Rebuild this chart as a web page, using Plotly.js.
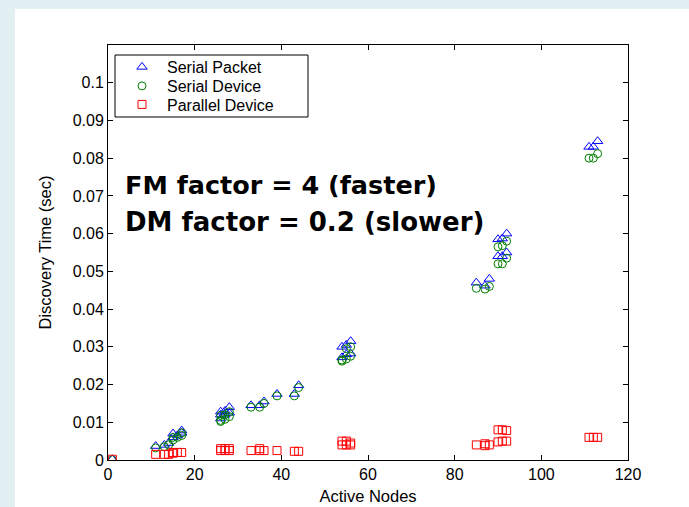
<!DOCTYPE html>
<html>
<head>
<meta charset="utf-8">
<script src="https://cdn.plot.ly/plotly-3.0.1.min.js"></script>
<style>
html,body{margin:0;padding:0;width:689px;height:507px;overflow:hidden;background:#e2f0f3;}
#panel{position:absolute;left:15px;top:9px;width:674px;height:498px;background:#ffffff;}
#chart{position:absolute;left:0;top:0;width:689px;height:507px;}
</style>
</head>
<body>
<div id="panel"></div>
<div id="chart"></div>
<script>
const packetX = [1, 11, 13, 14, 15, 15, 16, 17, 17, 26, 26, 26, 27, 27, 28, 28, 33, 35, 36, 39, 43, 44, 54, 54, 55, 55, 56, 56, 85, 87, 88, 90, 90, 91, 91, 92, 92, 111, 112, 113];
const packetY = [0.0002, 0.0037, 0.004, 0.0045, 0.006, 0.007, 0.0065, 0.0078, 0.0072, 0.012, 0.0128, 0.011, 0.013, 0.012, 0.014, 0.0125, 0.0145, 0.0145, 0.0155, 0.0175, 0.0175, 0.0198, 0.0300, 0.0272, 0.0305, 0.0280, 0.0315, 0.0282, 0.0470, 0.0462, 0.0480, 0.0540, 0.0585, 0.0540, 0.0587, 0.0550, 0.0600, 0.0830, 0.0830, 0.0845];
const deviceX = [1, 11, 13, 14, 15, 15, 16, 17, 17, 26, 26, 26, 27, 27, 28, 28, 33, 35, 36, 39, 43, 44, 54, 54, 55, 55, 56, 56, 85, 87, 88, 90, 90, 91, 91, 92, 92, 111, 112, 113];
const deviceY = [0.0001, 0.0032, 0.0035, 0.004, 0.0053, 0.006, 0.006, 0.0072, 0.0065, 0.0105, 0.0118, 0.0102, 0.012, 0.0108, 0.0128, 0.0115, 0.014, 0.014, 0.015, 0.017, 0.017, 0.0192, 0.0265, 0.0262, 0.0295, 0.0268, 0.0300, 0.0275, 0.0455, 0.0453, 0.0460, 0.0520, 0.0565, 0.0520, 0.0568, 0.0535, 0.0580, 0.0800, 0.0800, 0.0812];
const parallelX = [1, 11, 13, 14, 15, 15, 16, 17, 26, 26, 27, 27, 28, 28, 33, 35, 35, 36, 39, 43, 44, 54, 54, 55, 55, 56, 56, 85, 87, 87, 88, 90, 90, 91, 91, 92, 92, 111, 112, 113];
const parallelY = [0.0002, 0.0015, 0.0015, 0.0015, 0.0020, 0.0018, 0.0020, 0.0020, 0.0030, 0.0025, 0.0030, 0.0025, 0.0030, 0.0025, 0.0025, 0.0030, 0.0025, 0.0025, 0.0025, 0.0023, 0.0023, 0.0050, 0.0040, 0.0050, 0.0040, 0.0045, 0.0040, 0.0040, 0.0043, 0.0038, 0.0040, 0.0080, 0.0048, 0.0080, 0.0050, 0.0078, 0.0050, 0.0060, 0.0060, 0.0060];
const seriesNames = ["Serial Packet", "Serial Device", "Parallel Device"];
const xTicks = [0, 20, 40, 60, 80, 100, 120];
const yTicks = [0, 0.01, 0.02, 0.03, 0.04, 0.05, 0.06, 0.07, 0.08, 0.09, 0.1];
const yTickText = ["0", "0.01", "0.02", "0.03", "0.04", "0.05", "0.06", "0.07", "0.08", "0.09", "0.1"];

const traces = [
  {x: packetX, y: packetY, name: seriesNames[0], type: 'scatter', mode: 'markers', legend: 'legend',
   marker: {symbol: 'triangle-up-open', size: 9, color: '#0000ff', line: {width: 1}}},
  {x: deviceX, y: deviceY, name: seriesNames[1], type: 'scatter', mode: 'markers', legend: 'legend2',
   marker: {symbol: 'circle-open', size: 8, color: '#008000', line: {width: 1}}},
  {x: parallelX, y: parallelY, name: seriesNames[2], type: 'scatter', mode: 'markers', legend: 'legend3',
   marker: {symbol: 'square-open', size: 8, color: '#ff0000', line: {width: 1}}}
];

const FONT = 'Arial, Liberation Sans, sans-serif';
const axisCommon = {
  showgrid: false, zeroline: false, showline: true, linecolor: '#000', linewidth: 1,
  mirror: 'ticks', ticks: 'inside', ticklen: 5, tickcolor: '#000',
  tickfont: {family: FONT, size: 16, color: '#000'}
};

const px = v => (v - 108) / 520;
const py = v => (460 - v) / 415;
const legendRow = yc => ({x: px(117), y: py(yc), xanchor: 'left', yanchor: 'middle',
  borderwidth: 0, bgcolor: 'rgba(0,0,0,0)', font: {family: FONT, size: 16, color: '#000'},
  itemwidth: 40});

const layout = {
  width: 689, height: 507,
  paper_bgcolor: 'rgba(0,0,0,0)', plot_bgcolor: '#ffffff',
  margin: {l: 108, r: 61, t: 45, b: 47},
  showlegend: true,
  legend: legendRow(67),
  legend2: legendRow(86),
  legend3: legendRow(104.5),
  shapes: [
    {type: 'rect', xref: 'paper', yref: 'paper', x0: px(115), x1: px(308), y0: py(117), y1: py(55),
     line: {color: '#000', width: 1}, fillcolor: 'rgba(0,0,0,0)', layer: 'above'}
  ],
  xaxis: Object.assign({}, axisCommon, {range: [0, 120], tickvals: xTicks, ticklabelstandoff: 0,
    title: {text: 'Active Nodes', font: {family: FONT, size: 16.5, color: '#000'}, standoff: 8}}),
  yaxis: Object.assign({}, axisCommon, {range: [0, 0.11], tickvals: yTicks, ticktext: yTickText,
    title: {text: 'Discovery Time (sec)', font: {family: FONT, size: 16.5, color: '#000'}, standoff: 16}}),
  annotations: [
    {text: '<b>FM factor = 4 (faster)</b>', xref: 'paper', yref: 'paper', x: px(123), y: py(185),
     xanchor: 'left', yanchor: 'middle', showarrow: false,
     font: {family: 'DejaVu Sans, sans-serif', size: 25.5, color: '#000'}},
    {text: '<b>DM factor = 0.2 (slower)</b>', xref: 'paper', yref: 'paper', x: px(123), y: py(222),
     xanchor: 'left', yanchor: 'middle', showarrow: false,
     font: {family: 'DejaVu Sans, sans-serif', size: 26, color: '#000'}}
  ]
};

Plotly.newPlot('chart', traces, layout, {displayModeBar: false, staticPlot: true});
</script>
</body>
</html>
